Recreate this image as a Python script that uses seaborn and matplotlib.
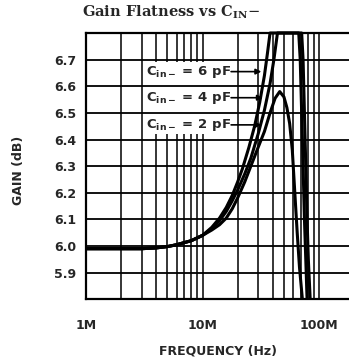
import matplotlib
matplotlib.use("Agg")
import matplotlib.pyplot as plt
import seaborn as sns
import pandas as pd
from matplotlib.patches import Rectangle
from matplotlib.ticker import FixedLocator, NullFormatter

# ---- data (frequency in MHz, gain in dB) ----
freq_common = [1, 2, 3, 4, 5, 6, 8, 10]
gain_common = [5.99, 5.99, 5.99, 5.993, 5.998, 6.005, 6.02, 6.04]

freq_6pf = [12, 14, 16, 18, 20, 22, 25, 28, 31, 34, 36, 38,
            71, 73, 75, 77, 79, 81, 84]
gain_6pf = [6.07, 6.105, 6.145, 6.19, 6.24, 6.29, 6.37, 6.45, 6.54, 6.64, 6.72, 6.8,
            6.8, 6.7, 6.5, 6.3, 6.1, 5.95, 5.8]

freq_4pf = [12, 14, 16, 18, 20, 23, 26, 30, 34, 38, 41, 44,
            67, 69, 71, 73, 75, 77, 79]
gain_4pf = [6.065, 6.095, 6.13, 6.17, 6.21, 6.27, 6.33, 6.42, 6.51, 6.61, 6.7, 6.8,
            6.8, 6.7, 6.5, 6.3, 6.1, 5.95, 5.8]

freq_2pf = [12, 14, 16, 18, 20, 23, 26, 30, 34, 38, 42, 46, 50, 53, 56, 59,
            62, 65, 68, 72]
gain_2pf = [6.06, 6.08, 6.105, 6.14, 6.18, 6.24, 6.3, 6.37, 6.43, 6.5, 6.555, 6.58,
            6.56, 6.52, 6.46, 6.36, 6.2, 6.05, 5.92, 5.8]

curve_names = ["6 pF", "4 pF", "2 pF"]
label_gain = [6.655, 6.557, 6.455]
arrow_tip_freq = [32, 33, 32]

y_ticks = [5.9, 6.0, 6.1, 6.2, 6.3, 6.4, 6.5, 6.6, 6.7]
x_major = [1, 10, 100]
x_major_labels = ["1M", "10M", "100M"]

# ---- build table ----
rows = []
for name, fr, gn in zip(curve_names, [freq_6pf, freq_4pf, freq_2pf],
                        [gain_6pf, gain_4pf, gain_2pf]):
    for f, g in zip(freq_common + fr, gain_common + gn):
        rows.append({"curve": name, "freq": f * 1e6, "gain": g})
df = pd.DataFrame(rows)

sns.set_style("white")
plt.rcParams["font.family"] = ["DejaVu Sans"]
plt.rcParams["mathtext.fontset"] = "dejavusans"

fig = plt.figure(figsize=(3.49, 3.63), dpi=100)
ax = fig.add_axes([86 / 349, 1 - 299.3 / 363, 263 / 349, 266.3 / 363])

sns.lineplot(data=df, x="freq", y="gain", hue="curve", palette=["black"] * 3,
             estimator=None, sort=False, legend=False, linewidth=2.2, ax=ax,
             zorder=4)
for ln in ax.lines:
    ln.set_clip_on(False)
    ln.set_solid_capstyle("butt")
    ln.set_solid_joinstyle("round")

ax.set_xscale("log")
ax.set_xlim(1e6, 1e6 * 10 ** (263 / 116.5))
ax.set_ylim(5.8, 6.8)

ax.xaxis.set_major_locator(FixedLocator([v * 1e6 for v in x_major]))
ax.set_xticklabels(x_major_labels)
minor = [m * d * 1e6 for d in (1, 10) for m in range(2, 10)]
ax.xaxis.set_minor_locator(FixedLocator(minor))
ax.xaxis.set_minor_formatter(NullFormatter())
ax.grid(True, which="both", axis="x", color="black", linewidth=1.1)
ax.set_axisbelow(True)

ax.set_yticks(y_ticks)
ax.set_yticklabels([f"{v:.1f}" for v in y_ticks])
for v in y_ticks:
    ax.axhline(v, color="black", linewidth=1.3, zorder=2)

ax.tick_params(axis="both", which="both", length=0, labelsize=9)
ax.tick_params(axis="x", pad=14)
ax.tick_params(axis="y", pad=7)
for lab in ax.get_xticklabels() + ax.get_yticklabels():
    lab.set_fontweight("bold")

for s in ["left", "top", "bottom"]:
    ax.spines[s].set_linewidth(1.6)
    ax.spines[s].set_color("black")
ax.spines["right"].set_visible(False)

# white box behind labels
ax.add_patch(Rectangle((0.222, 0.621), 0.348, 0.27, transform=ax.transAxes,
                       facecolor="white", edgecolor="none", zorder=1))

for name, g, tip in zip(curve_names, label_gain, arrow_tip_freq):
    ax.text(3.25e6, g, r"C$_{\mathbf{in-}}$ = " + name, fontsize=9.5,
            fontweight="bold", va="center", ha="left", zorder=5)
    ax.annotate("", xy=(tip * 1e6, g), xytext=(17.6e6, g),
                arrowprops=dict(arrowstyle="-|>", color="black", lw=1.2,
                                mutation_scale=8, shrinkA=0, shrinkB=0),
                zorder=5)

ax.set_xlabel("FREQUENCY (Hz)", fontsize=9, fontweight="bold")
ax.set_ylabel("GAIN (dB)", fontsize=9, fontweight="bold")
ax.xaxis.set_label_coords((218 - 86) / 263, -(344 - 299.3) / 266.3)
ax.yaxis.set_label_coords(-(86 - 25) / 263, (299.3 - 170) / 266.3)

fig.text(0.49, 1 - 12 / 363, r"Gain Flatness vs C$_{\mathbf{IN}}$$-$",
         family="DejaVu Serif", fontweight="bold", fontsize=10.5,
         ha="center", va="center", math_fontfamily="dejavuserif")

fig.savefig("out.png", dpi=100)
